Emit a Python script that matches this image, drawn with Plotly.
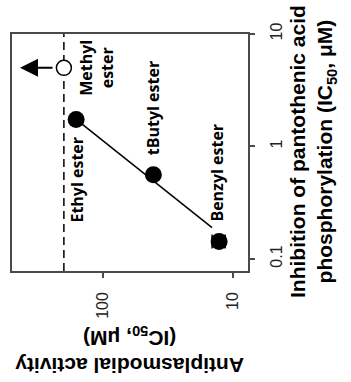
import math
import plotly.graph_objects as go

# ---------------- data ----------------
compounds = ["Methyl ester", "Ethyl ester", "tButyl ester", "Benzyl ester"]
antiplasmodial_ic50 = [200, 161, 41, 12.8]          # µM (methyl: > 200, lower bound)
pantothenate_ic50 = [5.0, 1.74, 0.56, 0.143]        # µM
antiplasmodial_err_plus = [0, 0, 0, 1.7]
antiplasmodial_err_minus = [0, 0, 0, 1.3]
methyl_arrow_to = [435]                             # arrow marking "> 200 µM"
max_conc_tested = [200]                             # dashed line
fit_antiplasmodial = [161, 14.5]
fit_pantothenate = [1.74, 0.19]
x_tickvals = [10, 100]
x_ticktext = ["10", "100"]
y_tickvals = [0.1, 1, 10]
y_ticktext = ["0.1", "1", "10"]

FONT = "Liberation Sans, Arial, sans-serif"
LBL_FONT = "Open Sans, Noto Sans, sans-serif"
FRAME = "#4a4a4a"

fig = go.Figure()

# fitted line
fig.add_trace(go.Scatter(
    x=fit_antiplasmodial, y=fit_pantothenate, mode="lines",
    line=dict(color="black", width=1.5), showlegend=False, hoverinfo="skip"))

# filled points (ethyl, tbutyl, benzyl)
fig.add_trace(go.Scatter(
    x=antiplasmodial_ic50[1:], y=pantothenate_ic50[1:], mode="markers",
    marker=dict(size=17, color="black", line=dict(width=0)),
    error_x=dict(type="data", symmetric=False,
                 array=antiplasmodial_err_plus[1:],
                 arrayminus=antiplasmodial_err_minus[1:],
                 color="black", thickness=1.5, width=7),
    showlegend=False))

# open point (methyl)
fig.add_trace(go.Scatter(
    x=antiplasmodial_ic50[:1], y=pantothenate_ic50[:1], mode="markers",
    marker=dict(size=15, color="white", line=dict(color="black", width=1.5)),
    showlegend=False))

# dashed line at max concentration tested
fig.add_shape(type="line", xref="x", yref="paper",
              x0=max_conc_tested[0], x1=max_conc_tested[0], y0=0, y1=1,
              line=dict(color="black", width=1.5, dash="8px,5px"), layer="below")

# arrow for methyl ester (> value)
fig.add_annotation(x=math.log10(methyl_arrow_to[0]), y=math.log10(pantothenate_ic50[0]),
                   ax=34, ay=0, text="", showarrow=True, arrowhead=2,
                   arrowsize=1.8, arrowwidth=2, arrowcolor="black")

# point labels (rotated)
label_texts = ["Methyl<br>ester", "Ethyl ester", "tButyl ester", "Benzyl ester"]
label_shift = [(33, 0), (1, -60), (-1, 67), (-2, 69)]
for i, t in enumerate(label_texts):
    fig.add_annotation(x=math.log10(antiplasmodial_ic50[i]), y=math.log10(pantothenate_ic50[i]),
                       text="<b>" + t + "</b>", showarrow=False, textangle=-90,
                       xanchor="center", yanchor="middle",
                       xshift=label_shift[i][0], yshift=label_shift[i][1],
                       font=dict(family=LBL_FONT, size=16, color="black"))

# axis titles as annotations
fig.add_annotation(xref="paper", yref="paper", x=1.275, y=0.506,
                   text="<b>Inhibition of pantothenic acid<br>phosphorylation (IC<sub>50</sub>, μM)</b>",
                   showarrow=False, textangle=-90, xanchor="center", yanchor="middle",
                   font=dict(family=FONT, size=21, color="black"))
fig.add_annotation(xref="paper", yref="paper", x=0.5, y=-0.333,
                   text="<b>Antiplasmodial activity<br>(IC<sub>50</sub>, μM)</b>",
                   showarrow=False, textangle=180, xanchor="center", yanchor="middle",
                   font=dict(family=FONT, size=21, color="black"))

fig.update_xaxes(type="log", range=[2.70, 0.885], tickvals=x_tickvals, ticktext=x_ticktext,
                 ticks="outside", ticklen=5, tickwidth=1.5, tickcolor=FRAME, tickangle=-90,
                 ticklabelstandoff=8, automargin=False,
                 showline=True, linecolor=FRAME, linewidth=1.5, mirror=True,
                 showgrid=False, zeroline=False,
                 tickfont=dict(family=FONT, size=16, color="#222"))
fig.update_yaxes(type="log", range=[-1.107, 1.0], side="right",
                 tickvals=y_tickvals, ticktext=y_ticktext,
                 ticks="outside", ticklen=5, tickwidth=1.5, tickcolor=FRAME, tickangle=-90,
                 ticklabelstandoff=8, automargin=False,
                 showline=True, linecolor=FRAME, linewidth=1.5, mirror=True,
                 showgrid=False, zeroline=False,
                 tickfont=dict(family=FONT, size=16, color="#222"))

fig.update_layout(width=351, height=382, margin=dict(l=12, r=103, t=34, b=111),
                  paper_bgcolor="white", plot_bgcolor="white", showlegend=False)

fig.write_html("out.html", config={"displayModeBar": False},
               post_script="document.body.style.margin='0';document.body.style.overflow='hidden';")
